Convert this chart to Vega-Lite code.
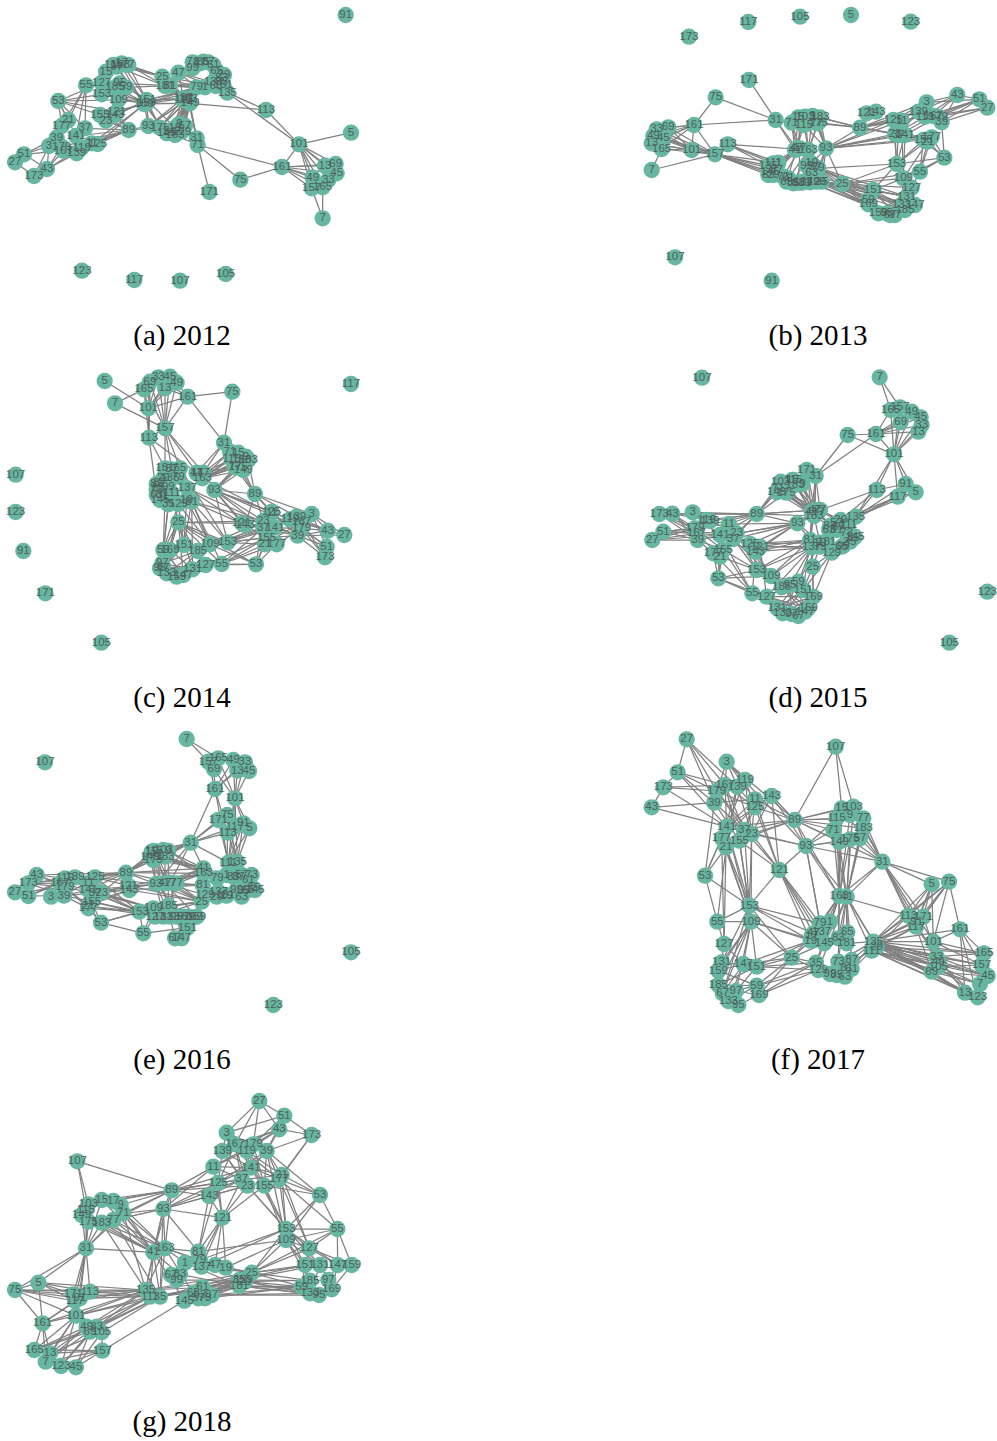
{"$schema":"https://vega.github.io/schema/vega-lite/v6.json","padding":0,"background":"white","columns":2,"spacing":{"column":263,"row":11},"config":{"view":{"stroke":null},"title":{"font":"Liberation Serif","fontSize":29,"fontWeight":"normal","color":"#000000"},"circle":{"size":265,"opacity":1,"color":"#66B6A1"},"rule":{"color":"#808080","strokeWidth":1.25},"text":{"font":"Liberation Sans","fontSize":11.5,"color":"#4f5f5b"}},
"datasets":{
"na":[{"n":1,"x":615,"y":262},{"n":3,"x":147,"y":438},{"n":5,"x":1053,"y":398},{"n":7,"x":968,"y":655},{"n":9,"x":538,"y":372},{"n":11,"x":275,"y":430},{"n":13,"x":975,"y":497},{"n":15,"x":318,"y":215},{"n":17,"x":365,"y":190},{"n":19,"x":525,"y":383},{"n":21,"x":205,"y":360},{"n":23,"x":318,"y":362},{"n":25,"x":487,"y":230},{"n":27,"x":45,"y":487},{"n":29,"x":672,"y":225},{"n":31,"x":590,"y":415},{"n":33,"x":985,"y":540},{"n":35,"x":665,"y":245},{"n":37,"x":255,"y":385},{"n":39,"x":170,"y":413},{"n":41,"x":565,"y":297},{"n":43,"x":141,"y":507},{"n":45,"x":1010,"y":520},{"n":47,"x":535,"y":218},{"n":49,"x":938,"y":533},{"n":51,"x":72,"y":463},{"n":53,"x":175,"y":303},{"n":55,"x":258,"y":256},{"n":57,"x":555,"y":378},{"n":59,"x":378,"y":262},{"n":61,"x":640,"y":195},{"n":63,"x":648,"y":258},{"n":65,"x":650,"y":212},{"n":67,"x":600,"y":190},{"n":69,"x":1007,"y":492},{"n":71,"x":593,"y":435},{"n":73,"x":578,"y":187},{"n":75,"x":721,"y":539},{"n":77,"x":385,"y":195},{"n":79,"x":590,"y":262},{"n":81,"x":510,"y":257},{"n":83,"x":665,"y":235},{"n":85,"x":610,"y":185},{"n":87,"x":625,"y":187},{"n":89,"x":386,"y":390},{"n":91,"x":1037,"y":45},{"n":93,"x":445,"y":378},{"n":95,"x":360,"y":250},{"n":97,"x":350,"y":200},{"n":99,"x":578,"y":205},{"n":101,"x":897,"y":433},{"n":103,"x":362,"y":195},{"n":105,"x":677,"y":822},{"n":107,"x":540,"y":842},{"n":109,"x":355,"y":300},{"n":111,"x":550,"y":300},{"n":113,"x":798,"y":330},{"n":115,"x":340,"y":195},{"n":117,"x":403,"y":840},{"n":119,"x":245,"y":443},{"n":121,"x":350,"y":335},{"n":123,"x":246,"y":812},{"n":125,"x":293,"y":432},{"n":127,"x":305,"y":248},{"n":129,"x":545,"y":395},{"n":131,"x":670,"y":255},{"n":133,"x":640,"y":245},{"n":135,"x":682,"y":278},{"n":137,"x":550,"y":295},{"n":139,"x":230,"y":460},{"n":141,"x":228,"y":408},{"n":143,"x":345,"y":345},{"n":145,"x":500,"y":400},{"n":147,"x":515,"y":395},{"n":149,"x":570,"y":310},{"n":151,"x":440,"y":300},{"n":153,"x":305,"y":283},{"n":155,"x":300,"y":345},{"n":157,"x":935,"y":565},{"n":159,"x":440,"y":310},{"n":161,"x":846,"y":501},{"n":163,"x":565,"y":297},{"n":165,"x":968,"y":562},{"n":167,"x":190,"y":452},{"n":169,"x":432,"y":312},{"n":171,"x":628,"y":576},{"n":173,"x":102,"y":528},{"n":175,"x":480,"y":383},{"n":177,"x":185,"y":378},{"n":179,"x":185,"y":440},{"n":181,"x":495,"y":258},{"n":183,"x":525,"y":405},{"n":185,"x":345,"y":262}],
"ea":[{"s":5,"t":101},{"s":101,"t":113},{"s":101,"t":135},{"s":113,"t":135},{"s":113,"t":149},{"s":101,"t":161},{"s":161,"t":75},{"s":161,"t":71},{"s":75,"t":71},{"s":171,"t":71},{"s":101,"t":13},{"s":101,"t":69},{"s":101,"t":45},{"s":101,"t":49},{"s":101,"t":33},{"s":101,"t":157},{"s":101,"t":165},{"s":161,"t":13},{"s":161,"t":69},{"s":161,"t":45},{"s":161,"t":49},{"s":161,"t":33},{"s":161,"t":157},{"s":161,"t":165},{"s":7,"t":157},{"s":7,"t":165},{"s":31,"t":149},{"s":31,"t":41},{"s":71,"t":163},{"s":27,"t":51},{"s":27,"t":173},{"s":51,"t":3},{"s":51,"t":39},{"s":51,"t":167},{"s":51,"t":43},{"s":43,"t":3},{"s":43,"t":179},{"s":43,"t":167},{"s":43,"t":139},{"s":43,"t":119},{"s":173,"t":3},{"s":173,"t":43},{"s":53,"t":21},{"s":53,"t":177},{"s":53,"t":141},{"s":53,"t":127},{"s":53,"t":153},{"s":53,"t":109},{"s":53,"t":155},{"s":53,"t":121},{"s":53,"t":37},{"s":55,"t":37},{"s":55,"t":177},{"s":55,"t":21},{"s":55,"t":141},{"s":89,"t":11},{"s":89,"t":125},{"s":89,"t":141},{"s":89,"t":37},{"s":89,"t":119},{"s":89,"t":139},{"s":89,"t":23},{"s":89,"t":143},{"s":89,"t":155},{"s":89,"t":121},{"s":89,"t":167},{"s":89,"t":179},{"s":77,"t":25},{"s":17,"t":25},{"s":103,"t":25},{"s":115,"t":25},{"s":97,"t":181},{"s":77,"t":181},{"s":59,"t":151},{"s":95,"t":151},{"s":185,"t":159},{"s":109,"t":151},{"s":109,"t":159},{"s":127,"t":169},{"s":153,"t":169},{"s":59,"t":81},{"s":95,"t":81},{"s":77,"t":151},{"s":17,"t":151},{"s":97,"t":169},{"s":115,"t":159},{"s":103,"t":169},{"s":153,"t":151},{"s":23,"t":151},{"s":143,"t":151},{"s":121,"t":169},{"s":155,"t":169},{"s":121,"t":159},{"s":125,"t":169},{"s":11,"t":159},{"s":81,"t":79},{"s":81,"t":137},{"s":25,"t":79},{"s":25,"t":137},{"s":47,"t":79},{"s":47,"t":73},{"s":47,"t":137},{"s":81,"t":1},{"s":81,"t":63},{"s":25,"t":63},{"s":181,"t":133},{"s":181,"t":79},{"s":47,"t":131},{"s":47,"t":135},{"s":181,"t":137},{"s":25,"t":163},{"s":81,"t":41},{"s":81,"t":149},{"s":151,"t":137},{"s":151,"t":163},{"s":151,"t":41},{"s":159,"t":149},{"s":159,"t":137},{"s":169,"t":149},{"s":151,"t":79},{"s":169,"t":79},{"s":159,"t":63},{"s":151,"t":1},{"s":93,"t":137},{"s":93,"t":163},{"s":175,"t":137},{"s":175,"t":41},{"s":19,"t":149},{"s":19,"t":163},{"s":9,"t":41},{"s":9,"t":137},{"s":57,"t":149},{"s":57,"t":163},{"s":145,"t":149},{"s":145,"t":41},{"s":147,"t":137},{"s":147,"t":163},{"s":183,"t":149},{"s":183,"t":41},{"s":129,"t":149},{"s":129,"t":163},{"s":93,"t":41},{"s":175,"t":163},{"s":89,"t":93},{"s":89,"t":175},{"s":93,"t":151},{"s":93,"t":169},{"s":175,"t":159},{"s":175,"t":151},{"s":145,"t":169},{"s":19,"t":151},{"s":93,"t":159},{"s":31,"t":129},{"s":31,"t":57},{"s":71,"t":183},{"s":31,"t":9},{"s":71,"t":57}],
"nb":[{"n":1,"x":445,"y":488},{"n":3,"x":890,"y":307},{"n":5,"x":663,"y":45},{"n":7,"x":65,"y":510},{"n":9,"x":548,"y":348},{"n":11,"x":815,"y":362},{"n":13,"x":65,"y":430},{"n":15,"x":505,"y":352},{"n":17,"x":510,"y":445},{"n":19,"x":545,"y":490},{"n":21,"x":893,"y":425},{"n":23,"x":795,"y":402},{"n":25,"x":637,"y":552},{"n":27,"x":1072,"y":323},{"n":29,"x":430,"y":525},{"n":31,"x":437,"y":360},{"n":33,"x":80,"y":388},{"n":35,"x":575,"y":545},{"n":37,"x":805,"y":405},{"n":39,"x":935,"y":367},{"n":41,"x":495,"y":450},{"n":43,"x":982,"y":285},{"n":45,"x":100,"y":413},{"n":47,"x":500,"y":445},{"n":49,"x":70,"y":408},{"n":51,"x":1048,"y":298},{"n":53,"x":943,"y":473},{"n":55,"x":870,"y":515},{"n":57,"x":555,"y":500},{"n":59,"x":715,"y":600},{"n":61,"x":475,"y":535},{"n":63,"x":545,"y":520},{"n":65,"x":470,"y":545},{"n":67,"x":780,"y":645},{"n":69,"x":115,"y":382},{"n":71,"x":485,"y":368},{"n":73,"x":460,"y":530},{"n":75,"x":257,"y":292},{"n":77,"x":560,"y":370},{"n":79,"x":565,"y":505},{"n":81,"x":505,"y":548},{"n":83,"x":415,"y":525},{"n":85,"x":490,"y":550},{"n":87,"x":440,"y":510},{"n":89,"x":690,"y":383},{"n":91,"x":425,"y":842},{"n":93,"x":588,"y":445},{"n":95,"x":770,"y":640},{"n":97,"x":795,"y":645},{"n":99,"x":530,"y":497},{"n":101,"x":185,"y":450},{"n":103,"x":525,"y":350},{"n":105,"x":510,"y":50},{"n":107,"x":135,"y":772},{"n":109,"x":820,"y":535},{"n":111,"x":430,"y":490},{"n":113,"x":293,"y":433},{"n":115,"x":522,"y":375},{"n":117,"x":355,"y":66},{"n":119,"x":885,"y":350},{"n":121,"x":710,"y":340},{"n":123,"x":842,"y":65},{"n":125,"x":790,"y":360},{"n":127,"x":845,"y":563},{"n":129,"x":560,"y":545},{"n":131,"x":830,"y":590},{"n":133,"x":815,"y":615},{"n":135,"x":415,"y":497},{"n":137,"x":520,"y":545},{"n":139,"x":865,"y":335},{"n":141,"x":825,"y":405},{"n":143,"x":738,"y":335},{"n":145,"x":420,"y":515},{"n":147,"x":855,"y":615},{"n":149,"x":540,"y":547},{"n":151,"x":730,"y":570},{"n":153,"x":800,"y":492},{"n":155,"x":880,"y":420},{"n":157,"x":255,"y":463},{"n":159,"x":745,"y":640},{"n":161,"x":192,"y":375},{"n":163,"x":535,"y":450},{"n":165,"x":95,"y":447},{"n":167,"x":910,"y":348},{"n":169,"x":715,"y":613},{"n":171,"x":357,"y":240},{"n":173,"x":177,"y":110},{"n":175,"x":565,"y":368},{"n":177,"x":905,"y":412},{"n":179,"x":925,"y":350},{"n":181,"x":515,"y":548},{"n":183,"x":570,"y":352},{"n":185,"x":825,"y":630}],
"eb":[{"s":75,"t":161},{"s":75,"t":31},{"s":161,"t":31},{"s":161,"t":33},{"s":161,"t":69},{"s":161,"t":49},{"s":161,"t":45},{"s":161,"t":13},{"s":161,"t":165},{"s":161,"t":101},{"s":161,"t":157},{"s":101,"t":33},{"s":101,"t":69},{"s":101,"t":49},{"s":101,"t":45},{"s":101,"t":13},{"s":101,"t":165},{"s":101,"t":157},{"s":157,"t":33},{"s":157,"t":69},{"s":157,"t":49},{"s":157,"t":45},{"s":157,"t":13},{"s":157,"t":165},{"s":7,"t":157},{"s":7,"t":165},{"s":171,"t":31},{"s":31,"t":71},{"s":31,"t":47},{"s":31,"t":41},{"s":113,"t":163},{"s":113,"t":1},{"s":113,"t":135},{"s":157,"t":135},{"s":157,"t":145},{"s":157,"t":29},{"s":157,"t":83},{"s":157,"t":87},{"s":157,"t":1},{"s":113,"t":111},{"s":71,"t":41},{"s":71,"t":47},{"s":15,"t":41},{"s":15,"t":17},{"s":115,"t":47},{"s":115,"t":163},{"s":103,"t":163},{"s":9,"t":163},{"s":9,"t":93},{"s":77,"t":93},{"s":183,"t":93},{"s":175,"t":93},{"s":175,"t":163},{"s":183,"t":163},{"s":103,"t":41},{"s":71,"t":17},{"s":115,"t":93},{"s":41,"t":1},{"s":41,"t":135},{"s":47,"t":145},{"s":47,"t":29},{"s":17,"t":87},{"s":17,"t":73},{"s":163,"t":61},{"s":163,"t":85},{"s":163,"t":181},{"s":41,"t":83},{"s":47,"t":65},{"s":17,"t":81},{"s":163,"t":129},{"s":163,"t":35},{"s":93,"t":35},{"s":93,"t":129},{"s":93,"t":25},{"s":93,"t":19},{"s":93,"t":79},{"s":89,"t":183},{"s":89,"t":175},{"s":89,"t":77},{"s":89,"t":9},{"s":93,"t":89},{"s":93,"t":125},{"s":93,"t":23},{"s":93,"t":37},{"s":93,"t":141},{"s":93,"t":11},{"s":93,"t":155},{"s":93,"t":177},{"s":89,"t":125},{"s":89,"t":11},{"s":89,"t":23},{"s":89,"t":37},{"s":89,"t":141},{"s":89,"t":3},{"s":89,"t":139},{"s":89,"t":119},{"s":89,"t":143},{"s":89,"t":121},{"s":125,"t":139},{"s":11,"t":119},{"s":23,"t":155},{"s":37,"t":177},{"s":141,"t":177},{"s":141,"t":21},{"s":23,"t":139},{"s":125,"t":3},{"s":11,"t":3},{"s":37,"t":139},{"s":23,"t":119},{"s":37,"t":167},{"s":141,"t":179},{"s":43,"t":3},{"s":43,"t":139},{"s":43,"t":119},{"s":43,"t":167},{"s":43,"t":39},{"s":43,"t":51},{"s":51,"t":167},{"s":51,"t":179},{"s":51,"t":39},{"s":27,"t":39},{"s":27,"t":179},{"s":27,"t":119},{"s":27,"t":51},{"s":51,"t":3},{"s":51,"t":119},{"s":23,"t":153},{"s":37,"t":153},{"s":125,"t":153},{"s":11,"t":109},{"s":141,"t":153},{"s":141,"t":109},{"s":155,"t":153},{"s":155,"t":55},{"s":177,"t":55},{"s":21,"t":55},{"s":21,"t":109},{"s":177,"t":153},{"s":39,"t":53},{"s":177,"t":53},{"s":155,"t":53},{"s":21,"t":53},{"s":53,"t":55},{"s":53,"t":153},{"s":53,"t":109},{"s":153,"t":79},{"s":109,"t":25},{"s":55,"t":25},{"s":153,"t":25},{"s":25,"t":129},{"s":25,"t":35},{"s":79,"t":151},{"s":79,"t":59},{"s":35,"t":151},{"s":35,"t":59},{"s":129,"t":169},{"s":129,"t":133},{"s":57,"t":131},{"s":57,"t":159},{"s":63,"t":159},{"s":63,"t":133},{"s":79,"t":133},{"s":79,"t":185},{"s":35,"t":131},{"s":35,"t":147},{"s":129,"t":185},{"s":35,"t":95},{"s":149,"t":97},{"s":149,"t":95},{"s":25,"t":151},{"s":25,"t":59},{"s":25,"t":169},{"s":25,"t":131},{"s":25,"t":127},{"s":151,"t":131},{"s":151,"t":133},{"s":131,"t":159},{"s":59,"t":97},{"s":169,"t":95},{"s":151,"t":97},{"s":109,"t":133},{"s":109,"t":131},{"s":153,"t":131},{"s":153,"t":151},{"s":127,"t":133},{"s":127,"t":159},{"s":55,"t":131},{"s":127,"t":95},{"s":109,"t":151}],
"nc":[{"n":1,"x":495,"y":410},{"n":3,"x":935,"y":462},{"n":5,"x":314,"y":63},{"n":7,"x":345,"y":130},{"n":9,"x":738,"y":290},{"n":11,"x":815,"y":460},{"n":13,"x":495,"y":85},{"n":15,"x":715,"y":278},{"n":17,"x":590,"y":340},{"n":19,"x":560,"y":420},{"n":21,"x":795,"y":553},{"n":23,"x":790,"y":483},{"n":25,"x":535,"y":487},{"n":27,"x":1033,"y":525},{"n":29,"x":490,"y":355},{"n":31,"x":672,"y":248},{"n":33,"x":475,"y":52},{"n":35,"x":505,"y":433},{"n":37,"x":790,"y":503},{"n":39,"x":893,"y":527},{"n":41,"x":590,"y":338},{"n":43,"x":983,"y":512},{"n":45,"x":510,"y":50},{"n":47,"x":610,"y":338},{"n":49,"x":530,"y":68},{"n":51,"x":980,"y":560},{"n":53,"x":768,"y":613},{"n":55,"x":665,"y":612},{"n":57,"x":480,"y":370},{"n":59,"x":490,"y":570},{"n":61,"x":485,"y":405},{"n":63,"x":470,"y":405},{"n":65,"x":540,"y":325},{"n":67,"x":490,"y":625},{"n":69,"x":450,"y":65},{"n":71,"x":690,"y":275},{"n":73,"x":470,"y":390},{"n":75,"x":697,"y":95},{"n":77,"x":705,"y":322},{"n":79,"x":535,"y":350},{"n":81,"x":575,"y":425},{"n":83,"x":470,"y":372},{"n":85,"x":475,"y":385},{"n":87,"x":515,"y":328},{"n":89,"x":765,"y":402},{"n":91,"x":70,"y":573},{"n":93,"x":643,"y":390},{"n":95,"x":480,"y":625},{"n":97,"x":487,"y":610},{"n":99,"x":505,"y":380},{"n":101,"x":445,"y":145},{"n":103,"x":745,"y":300},{"n":105,"x":304,"y":848},{"n":107,"x":47,"y":344},{"n":109,"x":630,"y":553},{"n":111,"x":515,"y":400},{"n":113,"x":447,"y":233},{"n":115,"x":695,"y":298},{"n":117,"x":1053,"y":72},{"n":119,"x":870,"y":478},{"n":121,"x":725,"y":490},{"n":123,"x":47,"y":456},{"n":125,"x":815,"y":455},{"n":127,"x":617,"y":615},{"n":129,"x":535,"y":432},{"n":131,"x":578,"y":628},{"n":133,"x":500,"y":640},{"n":135,"x":510,"y":355},{"n":137,"x":562,"y":385},{"n":139,"x":890,"y":470},{"n":141,"x":825,"y":503},{"n":143,"x":735,"y":495},{"n":145,"x":480,"y":420},{"n":147,"x":550,"y":645},{"n":149,"x":730,"y":330},{"n":151,"x":552,"y":555},{"n":153,"x":683,"y":547},{"n":155,"x":800,"y":533},{"n":157,"x":495,"y":205},{"n":159,"x":530,"y":650},{"n":161,"x":563,"y":110},{"n":163,"x":607,"y":355},{"n":165,"x":432,"y":88},{"n":167,"x":905,"y":485},{"n":169,"x":510,"y":570},{"n":171,"x":136,"y":700},{"n":173,"x":975,"y":592},{"n":175,"x":715,"y":320},{"n":177,"x":830,"y":553},{"n":179,"x":905,"y":505},{"n":181,"x":495,"y":325},{"n":183,"x":725,"y":300},{"n":185,"x":593,"y":573}],
"ec":[{"s":5,"t":101},{"s":7,"t":157},{"s":7,"t":165},{"s":165,"t":101},{"s":69,"t":101},{"s":33,"t":101},{"s":45,"t":101},{"s":13,"t":101},{"s":49,"t":101},{"s":165,"t":157},{"s":69,"t":157},{"s":33,"t":157},{"s":45,"t":157},{"s":13,"t":157},{"s":49,"t":157},{"s":161,"t":13},{"s":161,"t":49},{"s":161,"t":33},{"s":161,"t":101},{"s":161,"t":157},{"s":161,"t":75},{"s":161,"t":31},{"s":75,"t":31},{"s":113,"t":101},{"s":113,"t":157},{"s":113,"t":165},{"s":113,"t":69},{"s":157,"t":181},{"s":157,"t":65},{"s":157,"t":87},{"s":157,"t":41},{"s":113,"t":181},{"s":113,"t":63},{"s":157,"t":47},{"s":113,"t":41},{"s":31,"t":41},{"s":31,"t":47},{"s":71,"t":47},{"s":115,"t":163},{"s":15,"t":163},{"s":9,"t":163},{"s":183,"t":163},{"s":175,"t":163},{"s":77,"t":163},{"s":77,"t":93},{"s":149,"t":93},{"s":175,"t":41},{"s":115,"t":47},{"s":103,"t":163},{"s":71,"t":163},{"s":149,"t":163},{"s":103,"t":93},{"s":89,"t":149},{"s":89,"t":77},{"s":89,"t":103},{"s":89,"t":175},{"s":89,"t":93},{"s":89,"t":125},{"s":89,"t":11},{"s":89,"t":23},{"s":93,"t":175},{"s":93,"t":125},{"s":93,"t":23},{"s":93,"t":37},{"s":93,"t":121},{"s":93,"t":143},{"s":93,"t":153},{"s":93,"t":179},{"s":93,"t":119},{"s":89,"t":3},{"s":89,"t":139},{"s":81,"t":121},{"s":81,"t":153},{"s":81,"t":23},{"s":81,"t":109},{"s":81,"t":55},{"s":65,"t":153},{"s":19,"t":109},{"s":129,"t":109},{"s":25,"t":109},{"s":25,"t":153},{"s":25,"t":55},{"s":25,"t":23},{"s":25,"t":121},{"s":25,"t":53},{"s":25,"t":127},{"s":137,"t":121},{"s":137,"t":141},{"s":163,"t":11},{"s":129,"t":59},{"s":129,"t":169},{"s":35,"t":59},{"s":35,"t":97},{"s":129,"t":151},{"s":1,"t":59},{"s":25,"t":59},{"s":25,"t":169},{"s":25,"t":151},{"s":25,"t":97},{"s":25,"t":131},{"s":25,"t":147},{"s":81,"t":151},{"s":81,"t":131},{"s":19,"t":151},{"s":23,"t":53},{"s":37,"t":153},{"s":141,"t":109},{"s":155,"t":53},{"s":21,"t":53},{"s":177,"t":53},{"s":177,"t":55},{"s":155,"t":55},{"s":21,"t":153},{"s":141,"t":153},{"s":155,"t":153},{"s":23,"t":109},{"s":37,"t":55},{"s":37,"t":109},{"s":155,"t":109},{"s":21,"t":55},{"s":155,"t":127},{"s":23,"t":153},{"s":125,"t":39},{"s":11,"t":39},{"s":23,"t":39},{"s":37,"t":179},{"s":141,"t":39},{"s":155,"t":39},{"s":177,"t":179},{"s":21,"t":167},{"s":121,"t":155},{"s":143,"t":39},{"s":143,"t":141},{"s":43,"t":3},{"s":43,"t":179},{"s":43,"t":39},{"s":43,"t":167},{"s":43,"t":139},{"s":27,"t":43},{"s":27,"t":39},{"s":51,"t":39},{"s":51,"t":179},{"s":51,"t":43},{"s":173,"t":39},{"s":173,"t":167},{"s":173,"t":179},{"s":51,"t":3},{"s":27,"t":3},{"s":43,"t":119},{"s":51,"t":119},{"s":53,"t":55},{"s":53,"t":109},{"s":53,"t":127},{"s":55,"t":127},{"s":55,"t":131},{"s":109,"t":131},{"s":151,"t":185},{"s":185,"t":97},{"s":185,"t":159},{"s":151,"t":95},{"s":151,"t":67},{"s":185,"t":133},{"s":59,"t":147},{"s":169,"t":131},{"s":97,"t":131},{"s":67,"t":131},{"s":95,"t":127},{"s":89,"t":143}],
"nd":[{"n":1,"x":640,"y":495},{"n":3,"x":188,"y":457},{"n":5,"x":857,"y":397},{"n":7,"x":749,"y":52},{"n":9,"x":517,"y":372},{"n":11,"x":297,"y":492},{"n":13,"x":865,"y":215},{"n":15,"x":487,"y":360},{"n":17,"x":565,"y":455},{"n":19,"x":570,"y":548},{"n":21,"x":270,"y":590},{"n":23,"x":320,"y":520},{"n":25,"x":548,"y":620},{"n":27,"x":67,"y":540},{"n":29,"x":632,"y":480},{"n":31,"x":557,"y":348},{"n":33,"x":875,"y":195},{"n":35,"x":660,"y":545},{"n":37,"x":310,"y":537},{"n":39,"x":203,"y":540},{"n":41,"x":545,"y":455},{"n":43,"x":127,"y":461},{"n":45,"x":872,"y":172},{"n":47,"x":555,"y":450},{"n":49,"x":845,"y":155},{"n":51,"x":100,"y":515},{"n":53,"x":265,"y":655},{"n":55,"x":367,"y":700},{"n":57,"x":620,"y":490},{"n":59,"x":505,"y":665},{"n":61,"x":620,"y":510},{"n":63,"x":597,"y":510},{"n":65,"x":635,"y":560},{"n":67,"x":505,"y":768},{"n":69,"x":812,"y":187},{"n":71,"x":445,"y":385},{"n":73,"x":650,"y":520},{"n":75,"x":653,"y":225},{"n":77,"x":570,"y":450},{"n":79,"x":570,"y":560},{"n":81,"x":540,"y":540},{"n":83,"x":600,"y":498},{"n":85,"x":670,"y":535},{"n":87,"x":625,"y":500},{"n":89,"x":380,"y":462},{"n":91,"x":827,"y":372},{"n":93,"x":502,"y":490},{"n":95,"x":480,"y":675},{"n":97,"x":485,"y":762},{"n":99,"x":640,"y":557},{"n":101,"x":792,"y":283},{"n":103,"x":452,"y":365},{"n":105,"x":958,"y":848},{"n":107,"x":216,"y":53},{"n":109,"x":423,"y":648},{"n":111,"x":655,"y":495},{"n":113,"x":740,"y":390},{"n":115,"x":490,"y":360},{"n":117,"x":803,"y":410},{"n":119,"x":230,"y":480},{"n":121,"x":390,"y":560},{"n":123,"x":1072,"y":695},{"n":125,"x":360,"y":552},{"n":127,"x":410,"y":710},{"n":129,"x":605,"y":578},{"n":131,"x":442,"y":745},{"n":133,"x":458,"y":760},{"n":135,"x":677,"y":470},{"n":137,"x":545,"y":562},{"n":139,"x":240,"y":483},{"n":141,"x":270,"y":525},{"n":143,"x":377,"y":575},{"n":145,"x":675,"y":530},{"n":147,"x":525,"y":755},{"n":149,"x":440,"y":397},{"n":151,"x":520,"y":690},{"n":153,"x":380,"y":630},{"n":155,"x":280,"y":570},{"n":157,"x":810,"y":142},{"n":159,"x":535,"y":745},{"n":161,"x":738,"y":222},{"n":163,"x":552,"y":468},{"n":165,"x":782,"y":150},{"n":167,"x":200,"y":520},{"n":169,"x":550,"y":710},{"n":171,"x":530,"y":330},{"n":173,"x":88,"y":462},{"n":175,"x":468,"y":398},{"n":177,"x":250,"y":580},{"n":179,"x":195,"y":505},{"n":181,"x":590,"y":545},{"n":183,"x":495,"y":375},{"n":185,"x":455,"y":682}],
"ed":[{"s":7,"t":165},{"s":7,"t":157},{"s":165,"t":161},{"s":157,"t":101},{"s":49,"t":101},{"s":45,"t":101},{"s":33,"t":101},{"s":13,"t":101},{"s":69,"t":101},{"s":165,"t":101},{"s":161,"t":69},{"s":161,"t":49},{"s":161,"t":33},{"s":161,"t":13},{"s":161,"t":45},{"s":161,"t":101},{"s":161,"t":75},{"s":161,"t":31},{"s":75,"t":101},{"s":75,"t":31},{"s":101,"t":113},{"s":101,"t":117},{"s":101,"t":91},{"s":101,"t":5},{"s":101,"t":135},{"s":91,"t":113},{"s":5,"t":117},{"s":91,"t":135},{"s":117,"t":135},{"s":113,"t":135},{"s":113,"t":77},{"s":117,"t":29},{"s":113,"t":29},{"s":117,"t":1},{"s":5,"t":135},{"s":171,"t":47},{"s":171,"t":41},{"s":31,"t":47},{"s":31,"t":41},{"s":31,"t":77},{"s":31,"t":163},{"s":9,"t":47},{"s":9,"t":41},{"s":183,"t":47},{"s":183,"t":163},{"s":115,"t":77},{"s":115,"t":41},{"s":103,"t":41},{"s":71,"t":41},{"s":71,"t":163},{"s":149,"t":47},{"s":175,"t":47},{"s":175,"t":163},{"s":149,"t":163},{"s":175,"t":77},{"s":89,"t":149},{"s":89,"t":175},{"s":89,"t":71},{"s":89,"t":103},{"s":89,"t":77},{"s":89,"t":47},{"s":89,"t":93},{"s":89,"t":163},{"s":93,"t":41},{"s":93,"t":163},{"s":93,"t":77},{"s":89,"t":3},{"s":89,"t":119},{"s":89,"t":139},{"s":89,"t":43},{"s":89,"t":173},{"s":89,"t":179},{"s":89,"t":11},{"s":89,"t":141},{"s":89,"t":23},{"s":89,"t":37},{"s":93,"t":11},{"s":93,"t":23},{"s":93,"t":37},{"s":93,"t":125},{"s":93,"t":121},{"s":93,"t":143},{"s":93,"t":39},{"s":43,"t":119},{"s":43,"t":179},{"s":43,"t":39},{"s":43,"t":167},{"s":173,"t":179},{"s":173,"t":39},{"s":173,"t":167},{"s":3,"t":179},{"s":3,"t":141},{"s":51,"t":11},{"s":51,"t":141},{"s":51,"t":23},{"s":51,"t":179},{"s":51,"t":39},{"s":27,"t":39},{"s":27,"t":167},{"s":27,"t":179},{"s":27,"t":141},{"s":39,"t":155},{"s":39,"t":141},{"s":39,"t":177},{"s":119,"t":155},{"s":139,"t":23},{"s":11,"t":177},{"s":167,"t":21},{"s":179,"t":155},{"s":141,"t":53},{"s":155,"t":53},{"s":21,"t":53},{"s":177,"t":53},{"s":21,"t":153},{"s":155,"t":153},{"s":23,"t":153},{"s":37,"t":153},{"s":155,"t":55},{"s":177,"t":55},{"s":141,"t":55},{"s":37,"t":109},{"s":23,"t":109},{"s":125,"t":109},{"s":143,"t":109},{"s":121,"t":127},{"s":143,"t":55},{"s":53,"t":153},{"s":53,"t":55},{"s":53,"t":109},{"s":53,"t":127},{"s":121,"t":81},{"s":125,"t":81},{"s":125,"t":19},{"s":143,"t":137},{"s":143,"t":81},{"s":121,"t":137},{"s":121,"t":79},{"s":153,"t":137},{"s":153,"t":81},{"s":109,"t":81},{"s":109,"t":137},{"s":127,"t":137},{"s":25,"t":81},{"s":25,"t":137},{"s":25,"t":129},{"s":25,"t":79},{"s":169,"t":129},{"s":169,"t":137},{"s":151,"t":129},{"s":151,"t":81},{"s":59,"t":137},{"s":59,"t":19},{"s":95,"t":137},{"s":169,"t":25},{"s":151,"t":25},{"s":109,"t":151},{"s":109,"t":59},{"s":109,"t":95},{"s":185,"t":147},{"s":185,"t":159},{"s":151,"t":133},{"s":59,"t":133},{"s":95,"t":97},{"s":95,"t":159},{"s":151,"t":131},{"s":169,"t":131},{"s":169,"t":133},{"s":127,"t":169},{"s":127,"t":147},{"s":127,"t":159},{"s":131,"t":59},{"s":47,"t":83},{"s":47,"t":29},{"s":77,"t":29},{"s":77,"t":63},{"s":163,"t":81},{"s":163,"t":19},{"s":47,"t":61},{"s":77,"t":1},{"s":41,"t":81},{"s":41,"t":137},{"s":163,"t":83},{"s":163,"t":57},{"s":93,"t":81},{"s":93,"t":19}],
"ne":[{"n":1,"x":680,"y":465},{"n":3,"x":153,"y":530},{"n":5,"x":748,"y":325},{"n":7,"x":560,"y":57},{"n":9,"x":505,"y":393},{"n":11,"x":265,"y":490},{"n":13,"x":712,"y":152},{"n":15,"x":455,"y":395},{"n":17,"x":510,"y":488},{"n":19,"x":680,"y":527},{"n":21,"x":265,"y":558},{"n":23,"x":305,"y":518},{"n":25,"x":605,"y":545},{"n":27,"x":45,"y":517},{"n":29,"x":650,"y":530},{"n":31,"x":572,"y":368},{"n":33,"x":735,"y":127},{"n":35,"x":760,"y":505},{"n":37,"x":285,"y":520},{"n":39,"x":192,"y":527},{"n":41,"x":610,"y":445},{"n":43,"x":110,"y":465},{"n":45,"x":747,"y":153},{"n":47,"x":495,"y":490},{"n":49,"x":700,"y":120},{"n":51,"x":85,"y":528},{"n":53,"x":303,"y":608},{"n":55,"x":430,"y":640},{"n":57,"x":725,"y":465},{"n":59,"x":565,"y":590},{"n":61,"x":745,"y":480},{"n":63,"x":725,"y":530},{"n":65,"x":745,"y":510},{"n":67,"x":525,"y":655},{"n":69,"x":642,"y":148},{"n":71,"x":470,"y":405},{"n":73,"x":755,"y":465},{"n":75,"x":682,"y":285},{"n":77,"x":530,"y":490},{"n":79,"x":652,"y":475},{"n":81,"x":608,"y":495},{"n":83,"x":700,"y":470},{"n":85,"x":730,"y":512},{"n":87,"x":715,"y":470},{"n":89,"x":378,"y":458},{"n":91,"x":730,"y":310},{"n":93,"x":468,"y":492},{"n":95,"x":530,"y":590},{"n":97,"x":550,"y":590},{"n":99,"x":710,"y":510},{"n":101,"x":705,"y":235},{"n":103,"x":490,"y":390},{"n":105,"x":1053,"y":697},{"n":107,"x":135,"y":127},{"n":109,"x":460,"y":565},{"n":111,"x":685,"y":428},{"n":113,"x":683,"y":338},{"n":115,"x":462,"y":393},{"n":117,"x":705,"y":320},{"n":119,"x":195,"y":475},{"n":121,"x":385,"y":497},{"n":123,"x":820,"y":855},{"n":125,"x":285,"y":472},{"n":127,"x":465,"y":590},{"n":129,"x":615,"y":525},{"n":131,"x":490,"y":590},{"n":133,"x":510,"y":590},{"n":135,"x":712,"y":425},{"n":137,"x":655,"y":515},{"n":139,"x":225,"y":472},{"n":141,"x":265,"y":510},{"n":143,"x":388,"y":510},{"n":145,"x":765,"y":510},{"n":147,"x":545,"y":655},{"n":149,"x":450,"y":410},{"n":151,"x":562,"y":623},{"n":153,"x":418,"y":575},{"n":155,"x":275,"y":545},{"n":157,"x":625,"y":125},{"n":159,"x":590,"y":590},{"n":161,"x":645,"y":207},{"n":163,"x":610,"y":460},{"n":165,"x":655,"y":115},{"n":167,"x":180,"y":490},{"n":169,"x":580,"y":592},{"n":171,"x":655,"y":300},{"n":173,"x":85,"y":490},{"n":175,"x":460,"y":420},{"n":177,"x":265,"y":565},{"n":179,"x":195,"y":502},{"n":181,"x":675,"y":525},{"n":183,"x":495,"y":410},{"n":185,"x":505,"y":557}],
"ee":[{"s":7,"t":157},{"s":7,"t":165},{"s":69,"t":161},{"s":157,"t":161},{"s":165,"t":101},{"s":49,"t":101},{"s":33,"t":101},{"s":13,"t":101},{"s":45,"t":101},{"s":69,"t":101},{"s":13,"t":161},{"s":49,"t":161},{"s":33,"t":161},{"s":161,"t":31},{"s":161,"t":111},{"s":101,"t":91},{"s":101,"t":5},{"s":101,"t":117},{"s":101,"t":135},{"s":101,"t":111},{"s":101,"t":113},{"s":161,"t":113},{"s":31,"t":75},{"s":31,"t":171},{"s":31,"t":113},{"s":31,"t":117},{"s":75,"t":135},{"s":171,"t":111},{"s":113,"t":135},{"s":91,"t":135},{"s":5,"t":135},{"s":117,"t":111},{"s":5,"t":111},{"s":91,"t":111},{"s":113,"t":1},{"s":31,"t":111},{"s":31,"t":103},{"s":31,"t":9},{"s":31,"t":115},{"s":31,"t":183},{"s":31,"t":175},{"s":31,"t":89},{"s":31,"t":93},{"s":31,"t":41},{"s":31,"t":17},{"s":9,"t":41},{"s":183,"t":163},{"s":175,"t":41},{"s":183,"t":41},{"s":9,"t":163},{"s":71,"t":41},{"s":71,"t":163},{"s":149,"t":41},{"s":77,"t":163},{"s":89,"t":71},{"s":89,"t":175},{"s":89,"t":115},{"s":89,"t":103},{"s":89,"t":149},{"s":89,"t":93},{"s":89,"t":17},{"s":89,"t":41},{"s":89,"t":163},{"s":93,"t":81},{"s":93,"t":163},{"s":93,"t":41},{"s":175,"t":93},{"s":175,"t":17},{"s":71,"t":17},{"s":71,"t":47},{"s":183,"t":47},{"s":77,"t":47},{"s":77,"t":185},{"s":175,"t":185},{"s":9,"t":185},{"s":115,"t":133},{"s":149,"t":131},{"s":17,"t":81},{"s":17,"t":41},{"s":17,"t":163},{"s":47,"t":81},{"s":47,"t":129},{"s":47,"t":25},{"s":17,"t":25},{"s":77,"t":25},{"s":47,"t":159},{"s":17,"t":95},{"s":93,"t":97},{"s":93,"t":133},{"s":93,"t":25},{"s":81,"t":79},{"s":81,"t":1},{"s":163,"t":79},{"s":163,"t":1},{"s":41,"t":1},{"s":41,"t":79},{"s":163,"t":83},{"s":163,"t":87},{"s":121,"t":81},{"s":143,"t":81},{"s":121,"t":163},{"s":143,"t":25},{"s":121,"t":25},{"s":89,"t":125},{"s":89,"t":11},{"s":89,"t":141},{"s":89,"t":23},{"s":89,"t":43},{"s":89,"t":139},{"s":89,"t":119},{"s":89,"t":167},{"s":89,"t":173},{"s":121,"t":125},{"s":121,"t":23},{"s":121,"t":37},{"s":143,"t":37},{"s":143,"t":155},{"s":143,"t":21},{"s":93,"t":23},{"s":93,"t":125},{"s":93,"t":141},{"s":43,"t":119},{"s":43,"t":167},{"s":43,"t":179},{"s":173,"t":139},{"s":173,"t":167},{"s":173,"t":179},{"s":173,"t":39},{"s":27,"t":179},{"s":51,"t":39},{"s":51,"t":167},{"s":51,"t":139},{"s":51,"t":119},{"s":3,"t":167},{"s":39,"t":125},{"s":39,"t":141},{"s":39,"t":155},{"s":39,"t":23},{"s":179,"t":37},{"s":167,"t":141},{"s":119,"t":11},{"s":139,"t":125},{"s":139,"t":23},{"s":139,"t":155},{"s":179,"t":21},{"s":179,"t":177},{"s":39,"t":177},{"s":155,"t":153},{"s":21,"t":153},{"s":177,"t":153},{"s":37,"t":153},{"s":23,"t":153},{"s":23,"t":109},{"s":37,"t":109},{"s":141,"t":109},{"s":155,"t":127},{"s":21,"t":127},{"s":177,"t":53},{"s":155,"t":53},{"s":21,"t":53},{"s":53,"t":153},{"s":53,"t":55},{"s":53,"t":109},{"s":55,"t":153},{"s":55,"t":109},{"s":55,"t":151},{"s":55,"t":127},{"s":141,"t":153},{"s":125,"t":153},{"s":153,"t":25},{"s":153,"t":185},{"s":109,"t":25},{"s":185,"t":25},{"s":109,"t":159},{"s":127,"t":25},{"s":151,"t":25},{"s":151,"t":129},{"s":67,"t":25},{"s":147,"t":25},{"s":67,"t":133},{"s":147,"t":95},{"s":151,"t":133},{"s":153,"t":97},{"s":109,"t":95}],
"nf":[{"n":1,"x":600,"y":605},{"n":3,"x":290,"y":125},{"n":5,"x":905,"y":493},{"n":7,"x":1050,"y":792},{"n":9,"x":660,"y":285},{"n":11,"x":375,"y":238},{"n":13,"x":1005,"y":818},{"n":15,"x":635,"y":265},{"n":17,"x":545,"y":648},{"n":19,"x":542,"y":662},{"n":21,"x":288,"y":382},{"n":23,"x":365,"y":342},{"n":25,"x":485,"y":713},{"n":27,"x":170,"y":58},{"n":29,"x":740,"y":680},{"n":31,"x":757,"y":425},{"n":33,"x":920,"y":710},{"n":35,"x":558,"y":728},{"n":37,"x":343,"y":330},{"n":39,"x":253,"y":248},{"n":41,"x":650,"y":530},{"n":43,"x":65,"y":262},{"n":45,"x":1073,"y":768},{"n":47,"x":550,"y":640},{"n":49,"x":925,"y":725},{"n":51,"x":143,"y":157},{"n":53,"x":225,"y":467},{"n":55,"x":262,"y":605},{"n":57,"x":690,"y":355},{"n":59,"x":380,"y":797},{"n":61,"x":665,"y":747},{"n":63,"x":645,"y":770},{"n":65,"x":652,"y":637},{"n":67,"x":278,"y":820},{"n":69,"x":905,"y":755},{"n":71,"x":610,"y":330},{"n":73,"x":625,"y":725},{"n":75,"x":957,"y":485},{"n":77,"x":700,"y":295},{"n":79,"x":570,"y":610},{"n":81,"x":650,"y":745},{"n":83,"x":625,"y":655},{"n":85,"x":620,"y":765},{"n":87,"x":665,"y":720},{"n":89,"x":494,"y":300},{"n":91,"x":860,"y":605},{"n":93,"x":528,"y":378},{"n":95,"x":325,"y":855},{"n":97,"x":318,"y":813},{"n":99,"x":600,"y":762},{"n":101,"x":910,"y":665},{"n":103,"x":670,"y":260},{"n":105,"x":925,"y":740},{"n":107,"x":617,"y":80},{"n":109,"x":363,"y":605},{"n":111,"x":725,"y":692},{"n":113,"x":835,"y":587},{"n":115,"x":620,"y":295},{"n":117,"x":858,"y":620},{"n":119,"x":345,"y":180},{"n":121,"x":448,"y":450},{"n":123,"x":1043,"y":832},{"n":125,"x":375,"y":262},{"n":127,"x":282,"y":672},{"n":129,"x":565,"y":750},{"n":131,"x":275,"y":727},{"n":133,"x":295,"y":843},{"n":135,"x":730,"y":665},{"n":137,"x":575,"y":637},{"n":139,"x":322,"y":200},{"n":141,"x":290,"y":320},{"n":143,"x":425,"y":228},{"n":145,"x":583,"y":670},{"n":147,"x":340,"y":732},{"n":149,"x":628,"y":365},{"n":151,"x":380,"y":740},{"n":153,"x":358,"y":557},{"n":155,"x":328,"y":362},{"n":157,"x":1055,"y":735},{"n":159,"x":265,"y":752},{"n":161,"x":990,"y":628},{"n":163,"x":628,"y":528},{"n":165,"x":1062,"y":700},{"n":167,"x":285,"y":195},{"n":169,"x":387,"y":825},{"n":171,"x":880,"y":590},{"n":173,"x":100,"y":202},{"n":175,"x":660,"y":358},{"n":177,"x":275,"y":355},{"n":179,"x":260,"y":213},{"n":181,"x":650,"y":670},{"n":183,"x":700,"y":325},{"n":185,"x":265,"y":795}],
"ef":[{"s":27,"t":51},{"s":27,"t":167},{"s":27,"t":179},{"s":27,"t":139},{"s":27,"t":39},{"s":51,"t":173},{"s":51,"t":167},{"s":51,"t":179},{"s":51,"t":39},{"s":51,"t":141},{"s":173,"t":43},{"s":173,"t":179},{"s":173,"t":167},{"s":173,"t":141},{"s":43,"t":141},{"s":43,"t":39},{"s":3,"t":167},{"s":3,"t":139},{"s":3,"t":119},{"s":3,"t":179},{"s":3,"t":11},{"s":3,"t":89},{"s":39,"t":53},{"s":141,"t":53},{"s":177,"t":53},{"s":21,"t":53},{"s":53,"t":55},{"s":53,"t":153},{"s":55,"t":127},{"s":55,"t":109},{"s":55,"t":153},{"s":21,"t":55},{"s":21,"t":127},{"s":177,"t":127},{"s":167,"t":141},{"s":179,"t":37},{"s":139,"t":23},{"s":119,"t":125},{"s":119,"t":141},{"s":11,"t":141},{"s":11,"t":37},{"s":125,"t":177},{"s":125,"t":155},{"s":139,"t":21},{"s":39,"t":155},{"s":167,"t":37},{"s":179,"t":23},{"s":119,"t":23},{"s":143,"t":23},{"s":143,"t":141},{"s":11,"t":23},{"s":167,"t":155},{"s":139,"t":177},{"s":39,"t":11},{"s":179,"t":125},{"s":39,"t":37},{"s":167,"t":125},{"s":139,"t":125},{"s":3,"t":93},{"s":143,"t":93},{"s":143,"t":89},{"s":125,"t":89},{"s":11,"t":89},{"s":23,"t":89},{"s":37,"t":89},{"s":141,"t":89},{"s":155,"t":89},{"s":23,"t":93},{"s":141,"t":93},{"s":155,"t":121},{"s":23,"t":121},{"s":125,"t":121},{"s":11,"t":121},{"s":143,"t":121},{"s":37,"t":121},{"s":21,"t":153},{"s":155,"t":153},{"s":23,"t":153},{"s":37,"t":153},{"s":177,"t":109},{"s":141,"t":153},{"s":141,"t":109},{"s":155,"t":109},{"s":21,"t":109},{"s":23,"t":109},{"s":89,"t":107},{"s":107,"t":103},{"s":107,"t":15},{"s":89,"t":15},{"s":89,"t":115},{"s":89,"t":71},{"s":89,"t":149},{"s":89,"t":103},{"s":89,"t":77},{"s":89,"t":183},{"s":89,"t":31},{"s":89,"t":93},{"s":93,"t":71},{"s":93,"t":149},{"s":93,"t":115},{"s":93,"t":175},{"s":93,"t":31},{"s":93,"t":163},{"s":93,"t":41},{"s":93,"t":79},{"s":93,"t":137},{"s":89,"t":163},{"s":121,"t":93},{"s":121,"t":153},{"s":121,"t":79},{"s":121,"t":137},{"s":121,"t":19},{"s":121,"t":47},{"s":121,"t":145},{"s":71,"t":163},{"s":149,"t":163},{"s":115,"t":163},{"s":15,"t":163},{"s":9,"t":163},{"s":103,"t":41},{"s":77,"t":41},{"s":183,"t":41},{"s":175,"t":163},{"s":57,"t":41},{"s":149,"t":41},{"s":175,"t":41},{"s":71,"t":41},{"s":31,"t":15},{"s":31,"t":103},{"s":31,"t":77},{"s":31,"t":183},{"s":31,"t":57},{"s":31,"t":175},{"s":31,"t":163},{"s":31,"t":41},{"s":31,"t":5},{"s":31,"t":75},{"s":31,"t":113},{"s":31,"t":117},{"s":31,"t":171},{"s":31,"t":91},{"s":31,"t":101},{"s":5,"t":171},{"s":5,"t":113},{"s":5,"t":117},{"s":5,"t":101},{"s":5,"t":91},{"s":75,"t":171},{"s":75,"t":161},{"s":75,"t":117},{"s":75,"t":113},{"s":75,"t":91},{"s":75,"t":101},{"s":5,"t":135},{"s":75,"t":135},{"s":163,"t":113},{"s":41,"t":135},{"s":41,"t":29},{"s":41,"t":111},{"s":163,"t":79},{"s":163,"t":1},{"s":163,"t":137},{"s":163,"t":83},{"s":41,"t":83},{"s":41,"t":65},{"s":41,"t":181},{"s":163,"t":145},{"s":41,"t":35},{"s":163,"t":35},{"s":41,"t":129},{"s":163,"t":19},{"s":163,"t":47},{"s":41,"t":73},{"s":163,"t":73},{"s":41,"t":87},{"s":153,"t":79},{"s":153,"t":47},{"s":153,"t":19},{"s":153,"t":25},{"s":109,"t":25},{"s":109,"t":19},{"s":109,"t":145},{"s":109,"t":151},{"s":109,"t":147},{"s":109,"t":67},{"s":109,"t":97},{"s":109,"t":185},{"s":109,"t":159},{"s":109,"t":131},{"s":153,"t":131},{"s":153,"t":67},{"s":127,"t":147},{"s":127,"t":131},{"s":25,"t":19},{"s":25,"t":47},{"s":25,"t":35},{"s":25,"t":129},{"s":25,"t":145},{"s":147,"t":19},{"s":151,"t":19},{"s":151,"t":35},{"s":151,"t":129},{"s":151,"t":25},{"s":59,"t":25},{"s":169,"t":25},{"s":59,"t":129},{"s":169,"t":129},{"s":59,"t":35},{"s":169,"t":35},{"s":147,"t":25},{"s":131,"t":151},{"s":159,"t":147},{"s":185,"t":151},{"s":185,"t":59},{"s":67,"t":59},{"s":97,"t":169},{"s":133,"t":59},{"s":95,"t":169},{"s":97,"t":151},{"s":67,"t":147},{"s":133,"t":147},{"s":159,"t":59},{"s":135,"t":33},{"s":135,"t":49},{"s":135,"t":105},{"s":135,"t":69},{"s":29,"t":33},{"s":29,"t":105},{"s":29,"t":69},{"s":111,"t":69},{"s":111,"t":105},{"s":135,"t":91},{"s":135,"t":113},{"s":135,"t":117},{"s":135,"t":171},{"s":29,"t":117},{"s":29,"t":113},{"s":111,"t":117},{"s":135,"t":101},{"s":135,"t":161},{"s":135,"t":165},{"s":135,"t":157},{"s":29,"t":157},{"s":29,"t":45},{"s":111,"t":7},{"s":111,"t":13},{"s":111,"t":123},{"s":135,"t":13},{"s":29,"t":165},{"s":135,"t":45},{"s":111,"t":45},{"s":29,"t":123},{"s":101,"t":161},{"s":113,"t":33},{"s":171,"t":33},{"s":91,"t":105},{"s":117,"t":69},{"s":161,"t":165},{"s":161,"t":157},{"s":161,"t":13},{"s":161,"t":123},{"s":33,"t":165},{"s":33,"t":157},{"s":105,"t":157},{"s":69,"t":45},{"s":69,"t":7},{"s":69,"t":13},{"s":49,"t":123},{"s":105,"t":123},{"s":33,"t":13},{"s":101,"t":165},{"s":101,"t":157},{"s":33,"t":45},{"s":105,"t":7},{"s":181,"t":135},{"s":87,"t":135},{"s":73,"t":135},{"s":61,"t":135},{"s":63,"t":111},{"s":99,"t":111}],
"ng":[{"n":1,"x":555,"y":533},{"n":3,"x":680,"y":143},{"n":5,"x":115,"y":593},{"n":7,"x":137,"y":830},{"n":9,"x":362,"y":360},{"n":11,"x":640,"y":245},{"n":13,"x":150,"y":805},{"n":15,"x":305,"y":345},{"n":17,"x":340,"y":348},{"n":19,"x":677,"y":548},{"n":21,"x":845,"y":270},{"n":23,"x":742,"y":302},{"n":25,"x":755,"y":563},{"n":27,"x":778,"y":48},{"n":29,"x":735,"y":590},{"n":31,"x":258,"y":490},{"n":33,"x":290,"y":725},{"n":35,"x":480,"y":635},{"n":37,"x":725,"y":283},{"n":39,"x":800,"y":198},{"n":41,"x":460,"y":502},{"n":43,"x":838,"y":133},{"n":45,"x":228,"y":847},{"n":47,"x":645,"y":540},{"n":49,"x":260,"y":725},{"n":51,"x":853,"y":92},{"n":53,"x":960,"y":330},{"n":55,"x":1012,"y":432},{"n":57,"x":595,"y":640},{"n":59,"x":905,"y":605},{"n":61,"x":608,"y":607},{"n":63,"x":600,"y":630},{"n":65,"x":580,"y":625},{"n":67,"x":513,"y":570},{"n":69,"x":270,"y":740},{"n":71,"x":370,"y":385},{"n":73,"x":615,"y":640},{"n":75,"x":45,"y":615},{"n":77,"x":340,"y":405},{"n":79,"x":600,"y":525},{"n":81,"x":595,"y":500},{"n":83,"x":540,"y":568},{"n":85,"x":718,"y":585},{"n":87,"x":635,"y":630},{"n":89,"x":515,"y":316},{"n":91,"x":240,"y":640},{"n":93,"x":490,"y":372},{"n":95,"x":957,"y":630},{"n":97,"x":985,"y":585},{"n":99,"x":530,"y":585},{"n":101,"x":228,"y":692},{"n":103,"x":265,"y":358},{"n":105,"x":305,"y":742},{"n":107,"x":232,"y":229},{"n":109,"x":858,"y":465},{"n":111,"x":450,"y":635},{"n":113,"x":270,"y":620},{"n":115,"x":258,"y":375},{"n":117,"x":225,"y":648},{"n":119,"x":740,"y":198},{"n":121,"x":667,"y":398},{"n":123,"x":183,"y":843},{"n":125,"x":655,"y":293},{"n":127,"x":928,"y":490},{"n":129,"x":730,"y":585},{"n":131,"x":960,"y":540},{"n":133,"x":930,"y":625},{"n":135,"x":437,"y":615},{"n":137,"x":605,"y":545},{"n":139,"x":667,"y":198},{"n":141,"x":753,"y":248},{"n":143,"x":627,"y":333},{"n":145,"x":553,"y":647},{"n":147,"x":1013,"y":540},{"n":149,"x":245,"y":390},{"n":151,"x":915,"y":540},{"n":153,"x":858,"y":432},{"n":155,"x":793,"y":302},{"n":157,"x":307,"y":797},{"n":159,"x":1055,"y":540},{"n":161,"x":128,"y":715},{"n":163,"x":495,"y":490},{"n":165,"x":103,"y":795},{"n":167,"x":705,"y":178},{"n":169,"x":995,"y":613},{"n":171,"x":220,"y":628},{"n":173,"x":935,"y":150},{"n":175,"x":265,"y":410},{"n":177,"x":838,"y":283},{"n":179,"x":760,"y":178},{"n":181,"x":718,"y":603},{"n":183,"x":305,"y":413},{"n":185,"x":930,"y":587}],
"eg":[{"s":27,"t":51},{"s":27,"t":3},{"s":27,"t":167},{"s":27,"t":179},{"s":27,"t":43},{"s":51,"t":173},{"s":51,"t":43},{"s":51,"t":39},{"s":51,"t":3},{"s":51,"t":179},{"s":43,"t":173},{"s":43,"t":119},{"s":43,"t":167},{"s":43,"t":139},{"s":43,"t":39},{"s":43,"t":179},{"s":173,"t":39},{"s":173,"t":21},{"s":173,"t":177},{"s":3,"t":167},{"s":3,"t":139},{"s":3,"t":39},{"s":11,"t":89},{"s":125,"t":89},{"s":143,"t":89},{"s":37,"t":89},{"s":23,"t":89},{"s":141,"t":89},{"s":11,"t":93},{"s":125,"t":93},{"s":23,"t":93},{"s":143,"t":93},{"s":37,"t":93},{"s":107,"t":89},{"s":107,"t":103},{"s":107,"t":115},{"s":89,"t":17},{"s":89,"t":15},{"s":89,"t":9},{"s":89,"t":71},{"s":89,"t":103},{"s":89,"t":77},{"s":89,"t":93},{"s":93,"t":71},{"s":93,"t":77},{"s":93,"t":121},{"s":93,"t":183},{"s":93,"t":41},{"s":93,"t":163},{"s":93,"t":81},{"s":89,"t":41},{"s":89,"t":163},{"s":139,"t":37},{"s":167,"t":125},{"s":179,"t":37},{"s":119,"t":23},{"s":39,"t":155},{"s":39,"t":141},{"s":11,"t":141},{"s":139,"t":141},{"s":167,"t":23},{"s":119,"t":155},{"s":179,"t":155},{"s":11,"t":37},{"s":125,"t":141},{"s":139,"t":125},{"s":139,"t":23},{"s":167,"t":155},{"s":167,"t":37},{"s":11,"t":119},{"s":11,"t":179},{"s":39,"t":37},{"s":39,"t":125},{"s":143,"t":23},{"s":143,"t":37},{"s":21,"t":141},{"s":177,"t":141},{"s":21,"t":119},{"s":177,"t":167},{"s":21,"t":39},{"s":177,"t":39},{"s":21,"t":125},{"s":177,"t":23},{"s":39,"t":53},{"s":21,"t":53},{"s":177,"t":53},{"s":155,"t":53},{"s":21,"t":153},{"s":177,"t":153},{"s":155,"t":153},{"s":23,"t":153},{"s":141,"t":153},{"s":37,"t":153},{"s":39,"t":109},{"s":155,"t":109},{"s":177,"t":127},{"s":21,"t":127},{"s":177,"t":55},{"s":53,"t":153},{"s":53,"t":109},{"s":53,"t":55},{"s":55,"t":153},{"s":55,"t":109},{"s":55,"t":127},{"s":143,"t":121},{"s":125,"t":121},{"s":11,"t":121},{"s":37,"t":121},{"s":23,"t":121},{"s":155,"t":121},{"s":121,"t":81},{"s":121,"t":79},{"s":121,"t":137},{"s":143,"t":81},{"s":121,"t":47},{"s":121,"t":19},{"s":125,"t":81},{"s":109,"t":81},{"s":153,"t":79},{"s":153,"t":137},{"s":109,"t":19},{"s":109,"t":25},{"s":153,"t":25},{"s":55,"t":25},{"s":127,"t":25},{"s":127,"t":151},{"s":153,"t":127},{"s":109,"t":127},{"s":153,"t":151},{"s":109,"t":151},{"s":109,"t":131},{"s":109,"t":185},{"s":153,"t":147},{"s":127,"t":147},{"s":55,"t":147},{"s":55,"t":159},{"s":127,"t":159},{"s":153,"t":131},{"s":31,"t":103},{"s":31,"t":175},{"s":31,"t":149},{"s":31,"t":183},{"s":31,"t":77},{"s":31,"t":71},{"s":31,"t":15},{"s":31,"t":115},{"s":31,"t":41},{"s":31,"t":5},{"s":31,"t":75},{"s":31,"t":171},{"s":31,"t":113},{"s":31,"t":91},{"s":31,"t":117},{"s":31,"t":101},{"s":15,"t":41},{"s":17,"t":41},{"s":9,"t":41},{"s":71,"t":41},{"s":183,"t":41},{"s":77,"t":41},{"s":175,"t":41},{"s":149,"t":41},{"s":77,"t":163},{"s":71,"t":163},{"s":183,"t":163},{"s":71,"t":135},{"s":77,"t":35},{"s":183,"t":111},{"s":9,"t":163},{"s":41,"t":135},{"s":41,"t":111},{"s":41,"t":35},{"s":163,"t":135},{"s":163,"t":35},{"s":163,"t":65},{"s":41,"t":145},{"s":93,"t":35},{"s":93,"t":135},{"s":163,"t":1},{"s":163,"t":81},{"s":41,"t":83},{"s":163,"t":79},{"s":163,"t":47},{"s":135,"t":113},{"s":135,"t":171},{"s":135,"t":91},{"s":135,"t":117},{"s":35,"t":113},{"s":111,"t":171},{"s":111,"t":91},{"s":135,"t":101},{"s":111,"t":101},{"s":35,"t":101},{"s":135,"t":49},{"s":135,"t":33},{"s":35,"t":105},{"s":35,"t":69},{"s":111,"t":49},{"s":111,"t":33},{"s":135,"t":161},{"s":135,"t":5},{"s":135,"t":75},{"s":113,"t":5},{"s":113,"t":75},{"s":35,"t":33},{"s":5,"t":75},{"s":5,"t":171},{"s":75,"t":171},{"s":75,"t":91},{"s":75,"t":117},{"s":75,"t":161},{"s":75,"t":101},{"s":5,"t":117},{"s":5,"t":161},{"s":161,"t":113},{"s":161,"t":117},{"s":161,"t":101},{"s":161,"t":165},{"s":161,"t":13},{"s":161,"t":7},{"s":101,"t":165},{"s":101,"t":13},{"s":101,"t":7},{"s":101,"t":123},{"s":49,"t":165},{"s":49,"t":13},{"s":33,"t":7},{"s":33,"t":123},{"s":69,"t":45},{"s":105,"t":45},{"s":105,"t":157},{"s":157,"t":165},{"s":157,"t":13},{"s":157,"t":7},{"s":157,"t":123},{"s":157,"t":45},{"s":145,"t":157},{"s":105,"t":13},{"s":69,"t":165},{"s":33,"t":165},{"s":49,"t":7},{"s":69,"t":123},{"s":65,"t":25},{"s":73,"t":25},{"s":87,"t":181},{"s":87,"t":85},{"s":145,"t":181},{"s":35,"t":85},{"s":111,"t":29},{"s":135,"t":25},{"s":35,"t":25},{"s":25,"t":151},{"s":25,"t":131},{"s":25,"t":185},{"s":25,"t":59},{"s":29,"t":59},{"s":29,"t":133},{"s":85,"t":95},{"s":181,"t":169},{"s":181,"t":59},{"s":181,"t":133},{"s":181,"t":95},{"s":29,"t":97},{"s":85,"t":185},{"s":85,"t":131},{"s":87,"t":133},{"s":73,"t":59},{"s":61,"t":151},{"s":87,"t":59},{"s":87,"t":95},{"s":65,"t":181},{"s":73,"t":181},{"s":57,"t":85},{"s":61,"t":85},{"s":145,"t":85},{"s":145,"t":29},{"s":135,"t":85},{"s":135,"t":181},{"s":35,"t":181},{"s":111,"t":181},{"s":83,"t":181},{"s":99,"t":85},{"s":1,"t":181},{"s":137,"t":25},{"s":47,"t":25},{"s":19,"t":25},{"s":79,"t":85},{"s":151,"t":185},{"s":131,"t":97},{"s":147,"t":97},{"s":159,"t":169},{"s":151,"t":59},{"s":131,"t":133},{"s":147,"t":169}]
},
"concat":[
{"title":{"text":"(a) 2012","orient":"bottom","anchor":"middle","dx":-1.5,"offset":4},"width":367,"height":318,"data":{"name":"na"},"encoding":{"x":{"field":"x","type":"quantitative","axis":null,"scale":{"domain":[0,1101],"nice":false,"zero":false}},"y":{"field":"y","type":"quantitative","axis":null,"scale":{"domain":[954,0],"nice":false,"zero":false}}},"layer":[{"data":{"name":"ea"},"transform":[{"lookup":"s","from":{"data":{"name":"na"},"key":"n","fields":["x","y"]}},{"lookup":"t","from":{"data":{"name":"na"},"key":"n","fields":["x","y"]},"as":["x2","y2"]}],"mark":"rule","encoding":{"x2":{"field":"x2"},"y2":{"field":"y2"}}},{"mark":"circle"},{"mark":"text","encoding":{"text":{"field":"n","type":"nominal"}}}]},
{"title":{"text":"(b) 2013","orient":"bottom","anchor":"middle","dx":4.5,"offset":4},"width":367,"height":318,"data":{"name":"nb"},"encoding":{"x":{"field":"x","type":"quantitative","axis":null,"scale":{"domain":[0,1101],"nice":false,"zero":false}},"y":{"field":"y","type":"quantitative","axis":null,"scale":{"domain":[954,0],"nice":false,"zero":false}}},"layer":[{"data":{"name":"eb"},"transform":[{"lookup":"s","from":{"data":{"name":"nb"},"key":"n","fields":["x","y"]}},{"lookup":"t","from":{"data":{"name":"nb"},"key":"n","fields":["x","y"]},"as":["x2","y2"]}],"mark":"rule","encoding":{"x2":{"field":"x2"},"y2":{"field":"y2"}}},{"mark":"circle"},{"mark":"text","encoding":{"text":{"field":"n","type":"nominal"}}}]},
{"title":{"text":"(c) 2014","orient":"bottom","anchor":"middle","dx":-1.5,"offset":4},"width":367,"height":318,"data":{"name":"nc"},"encoding":{"x":{"field":"x","type":"quantitative","axis":null,"scale":{"domain":[0,1101],"nice":false,"zero":false}},"y":{"field":"y","type":"quantitative","axis":null,"scale":{"domain":[960,6],"nice":false,"zero":false}}},"layer":[{"data":{"name":"ec"},"transform":[{"lookup":"s","from":{"data":{"name":"nc"},"key":"n","fields":["x","y"]}},{"lookup":"t","from":{"data":{"name":"nc"},"key":"n","fields":["x","y"]},"as":["x2","y2"]}],"mark":"rule","encoding":{"x2":{"field":"x2"},"y2":{"field":"y2"}}},{"mark":"circle"},{"mark":"text","encoding":{"text":{"field":"n","type":"nominal"}}}]},
{"title":{"text":"(d) 2015","orient":"bottom","anchor":"middle","dx":4.5,"offset":4},"width":367,"height":318,"data":{"name":"nd"},"encoding":{"x":{"field":"x","type":"quantitative","axis":null,"scale":{"domain":[0,1101],"nice":false,"zero":false}},"y":{"field":"y","type":"quantitative","axis":null,"scale":{"domain":[960,6],"nice":false,"zero":false}}},"layer":[{"data":{"name":"ed"},"transform":[{"lookup":"s","from":{"data":{"name":"nd"},"key":"n","fields":["x","y"]}},{"lookup":"t","from":{"data":{"name":"nd"},"key":"n","fields":["x","y"]},"as":["x2","y2"]}],"mark":"rule","encoding":{"x2":{"field":"x2"},"y2":{"field":"y2"}}},{"mark":"circle"},{"mark":"text","encoding":{"text":{"field":"n","type":"nominal"}}}]},
{"title":{"text":"(e) 2016","orient":"bottom","anchor":"middle","dx":-1.5,"offset":4},"width":367,"height":318,"data":{"name":"ne"},"encoding":{"x":{"field":"x","type":"quantitative","axis":null,"scale":{"domain":[0,1101],"nice":false,"zero":false}},"y":{"field":"y","type":"quantitative","axis":null,"scale":{"domain":[966,12],"nice":false,"zero":false}}},"layer":[{"data":{"name":"ee"},"transform":[{"lookup":"s","from":{"data":{"name":"ne"},"key":"n","fields":["x","y"]}},{"lookup":"t","from":{"data":{"name":"ne"},"key":"n","fields":["x","y"]},"as":["x2","y2"]}],"mark":"rule","encoding":{"x2":{"field":"x2"},"y2":{"field":"y2"}}},{"mark":"circle"},{"mark":"text","encoding":{"text":{"field":"n","type":"nominal"}}}]},
{"title":{"text":"(f) 2017","orient":"bottom","anchor":"middle","dx":4.5,"offset":4},"width":367,"height":318,"data":{"name":"nf"},"encoding":{"x":{"field":"x","type":"quantitative","axis":null,"scale":{"domain":[0,1101],"nice":false,"zero":false}},"y":{"field":"y","type":"quantitative","axis":null,"scale":{"domain":[966,12],"nice":false,"zero":false}}},"layer":[{"data":{"name":"ef"},"transform":[{"lookup":"s","from":{"data":{"name":"nf"},"key":"n","fields":["x","y"]}},{"lookup":"t","from":{"data":{"name":"nf"},"key":"n","fields":["x","y"]},"as":["x2","y2"]}],"mark":"rule","encoding":{"x2":{"field":"x2"},"y2":{"field":"y2"}}},{"mark":"circle"},{"mark":"text","encoding":{"text":{"field":"n","type":"nominal"}}}]},
{"title":{"text":"(g) 2018","orient":"bottom","anchor":"middle","dx":-1.5,"offset":4},"width":367,"height":318,"data":{"name":"ng"},"encoding":{"x":{"field":"x","type":"quantitative","axis":null,"scale":{"domain":[0,1101],"nice":false,"zero":false}},"y":{"field":"y","type":"quantitative","axis":null,"scale":{"domain":[957,3],"nice":false,"zero":false}}},"layer":[{"data":{"name":"eg"},"transform":[{"lookup":"s","from":{"data":{"name":"ng"},"key":"n","fields":["x","y"]}},{"lookup":"t","from":{"data":{"name":"ng"},"key":"n","fields":["x","y"]},"as":["x2","y2"]}],"mark":"rule","encoding":{"x2":{"field":"x2"},"y2":{"field":"y2"}}},{"mark":"circle"},{"mark":"text","encoding":{"text":{"field":"n","type":"nominal"}}}]}
]}
